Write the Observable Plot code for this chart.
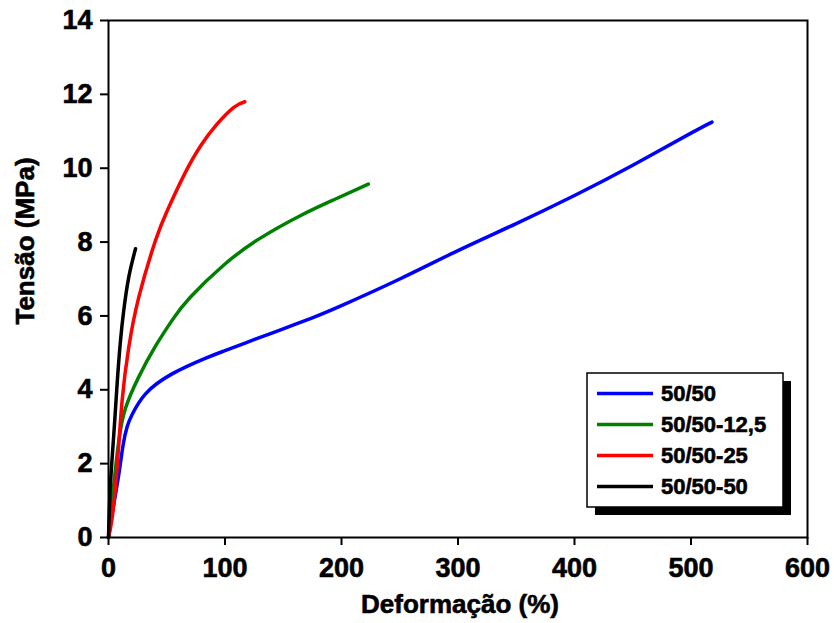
<!DOCTYPE html>
<html>
<head>
<meta charset="utf-8">
<script src="https://cdn.jsdelivr.net/npm/d3@7"></script>
<script src="https://cdn.jsdelivr.net/npm/@observablehq/plot@0.6"></script>
<style>
  html, body { margin: 0; padding: 0; background: #fff; }
  #chart { width: 834px; height: 623px; }
  /* heavier bold type for all labels */
  #chart svg text { stroke: #000; stroke-width: 0.6px; paint-order: stroke; }
</style>
</head>
<body>
<div id="chart"></div>
<script>
// Stress–strain curves for the blends (strain in %, stress in MPa)
const seriesNames = ["50/50", "50/50-12,5", "50/50-25", "50/50-50"];
const seriesColors = ["#0000ff", "#008000", "#ff0000", "#000000"];

const strain5050 = [0, 4, 8.9, 12.5, 16, 20.3, 31.8, 54.6, 83, 100, 126, 150, 175, 200, 250, 300, 350, 400, 450, 500, 518];
const stress5050 = [0, 0.8, 1.72, 2.5, 3.0, 3.33, 3.89, 4.43, 4.85, 5.06, 5.37, 5.65, 5.95, 6.28, 7.0, 7.77, 8.5, 9.26, 10.08, 10.95, 11.25];

const strain125 = [0, 4.6, 8.9, 14.6, 26, 40.3, 55, 70, 99, 130, 165, 193, 223];
const stress125 = [0, 1.45, 2.63, 3.5, 4.35, 5.18, 5.9, 6.5, 7.38, 8.1, 8.72, 9.14, 9.57];

const strain25 = [0, 3.2, 7.4, 11.7, 17.4, 26, 40.3, 50.4, 64.6, 79, 93.3, 107.6, 117];
const stress25 = [0, 0.55, 1.9, 3.71, 5.15, 6.51, 8.04, 8.85, 9.8, 10.6, 11.2, 11.65, 11.8];

const strain50 = [0, 1.7, 4.6, 7.4, 10.3, 13.1, 17.4, 23.2];
const stress50 = [0, 1.45, 2.81, 4.16, 5.33, 6.15, 7.05, 7.82];

const xTicks = [0, 100, 200, 300, 400, 500, 600];
const yTicks = [0, 2, 4, 6, 8, 10, 12, 14];

const curves = [
  [strain5050, stress5050],
  [strain125, stress125],
  [strain25, stress25],
  [strain50, stress50]
].map(([xs, ys], i) => xs.map((x, j) => ({x, y: ys[j], series: seriesNames[i]})));

const W = 834, H = 623;
const M = {top: 20, right: 27, bottom: 86, left: 108};
const font = "'Liberation Sans', Arial, Helvetica, sans-serif";

const plot = Plot.plot({
  width: W,
  height: H,
  marginTop: M.top,
  marginRight: M.right,
  marginBottom: M.bottom,
  marginLeft: M.left,
  style: {fontFamily: font, fontSize: "27px", fontWeight: "bold", color: "#000", background: "#fff"},
  x: {domain: [0, 600]},
  y: {domain: [0, 14]},
  marks: [
    ...curves.map((rows, i) => Plot.line(rows, {
      x: "x", y: "y", stroke: seriesColors[i], strokeWidth: 3.5, curve: "natural"
    })),
    Plot.frame({stroke: "#000", strokeWidth: 2}),
    Plot.axisX({ticks: xTicks, tickSize: 8, tickPadding: 12, strokeWidth: 2, label: null, tickFormat: d => String(d)}),
    Plot.axisY({ticks: yTicks, tickSize: 8, tickPadding: 8, strokeWidth: 2, label: null, tickFormat: d => String(d)})
  ]
});

document.getElementById("chart").appendChild(plot);

const svg = d3.select(plot);

// Axis titles
svg.append("text")
  .attr("x", 460).attr("y", 613)
  .attr("text-anchor", "middle")
  .attr("font-family", font).attr("font-size", 26).attr("font-weight", "bold")
  .attr("fill", "#000")
  .text("Deformação (%)");

svg.append("text")
  .attr("transform", "translate(34,241) rotate(-90)")
  .attr("text-anchor", "middle")
  .attr("font-family", font).attr("font-size", 26).attr("font-weight", "bold")
  .attr("fill", "#000")
  .text("Tensão (MPa)");

// Legend box with drop shadow
const lg = svg.append("g").attr("transform", "translate(587,373)");
const boxW = 196, boxH = 134, shadow = 8;
lg.append("rect").attr("x", shadow).attr("y", shadow).attr("width", boxW).attr("height", boxH).attr("fill", "#000");
lg.append("rect").attr("x", 0).attr("y", 0).attr("width", boxW).attr("height", boxH)
  .attr("fill", "#fff").attr("stroke", "#000").attr("stroke-width", 1.5);

seriesNames.forEach((name, i) => {
  const cy = 20.5 + i * 31;
  lg.append("line").attr("x1", 10).attr("x2", 66).attr("y1", cy).attr("y2", cy)
    .attr("stroke", seriesColors[i]).attr("stroke-width", 3.5);
  lg.append("text").attr("x", 74).attr("y", cy).attr("dy", "0.36em")
    .attr("text-anchor", "start")
    .attr("font-family", font).attr("font-size", 22).attr("font-weight", "bold")
    .attr("fill", "#000")
    .text(name);
});
</script>
</body>
</html>
